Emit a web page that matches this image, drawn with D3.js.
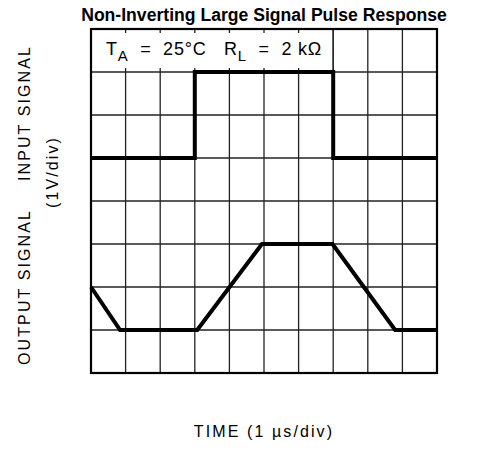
<!DOCTYPE html>
<html>
<head>
<meta charset="utf-8">
<script src="https://cdnjs.cloudflare.com/ajax/libs/d3/7.8.5/d3.min.js"></script>
<style>
  body { margin: 0; background: #fff; }
  .lbl { font-family: "Liberation Sans Narrow", "Liberation Sans", sans-serif; fill: #000; }
</style>
</head>
<body>
<script>
//scope divisions
let timeDivs = d3.range(0, 11),
    voltDivs = d3.range(0, 9);

//input pulse (time div, volt div)
let inputTime = [0, 3, 3, 7, 7, 10],
    inputVolt = [5, 5, 7, 7, 5, 5];

//output response (time div, volt div)
let outputTime = [0, 0.84, 3.07, 4.94, 6.98, 8.79, 10],
    outputVolt = [2, 1, 1, 3, 3, 1, 1];

window.onload = drawChart();

function drawChart() {
    let width = 485,
        height = 449;

    let margin = {top: 29, left: 91, right: 48, bottom: 76};

    let svg = d3.select("body")
        .append("svg")
        .attr("width", width)
        .attr("height", height);

    let x = d3.scaleLinear()
        .domain([0, 10])
        .range([margin.left, width - margin.right]);

    let y = d3.scaleLinear()
        .domain([0, 8])
        .range([height - margin.bottom, margin.top]);

    //the label box covers the first 7 columns of the top row
    let boxRight = 7;

    //vertical grid lines, broken by the label box
    svg.append("g")
        .selectAll("line")
        .data(timeDivs.slice(1, -1))
        .enter()
        .append("line")
        .attr("x1", d => x(d))
        .attr("x2", d => x(d))
        .attr("y1", d => d < boxRight ? y(7) : y(8))
        .attr("y2", y(0))
        .attr("stroke", "#222")
        .attr("stroke-width", 1.3);

    //little ticks inside the label box
    let boxTicks = timeDivs.slice(1, boxRight);
    svg.append("g")
        .selectAll("line")
        .data(boxTicks)
        .enter()
        .append("line")
        .attr("x1", d => x(d))
        .attr("x2", d => x(d))
        .attr("y1", y(8))
        .attr("y2", y(8) + 4)
        .attr("stroke", "#222")
        .attr("stroke-width", 1.3);
    svg.append("g")
        .selectAll("line")
        .data(boxTicks)
        .enter()
        .append("line")
        .attr("x1", d => x(d))
        .attr("x2", d => x(d))
        .attr("y1", y(7))
        .attr("y2", y(7) - 4)
        .attr("stroke", "#222")
        .attr("stroke-width", 1.3);

    //horizontal grid lines
    svg.append("g")
        .selectAll("line")
        .data(voltDivs.slice(1, -1))
        .enter()
        .append("line")
        .attr("x1", x(0))
        .attr("x2", x(10))
        .attr("y1", d => y(d))
        .attr("y2", d => y(d))
        .attr("stroke", "#222")
        .attr("stroke-width", 1.3);

    //box edge on the right of the label
    svg.append("line")
        .attr("x1", x(boxRight))
        .attr("x2", x(boxRight))
        .attr("y1", y(8))
        .attr("y2", y(7))
        .attr("stroke", "#222")
        .attr("stroke-width", 1.3);

    //frame
    svg.append("rect")
        .attr("x", x(0))
        .attr("y", y(8))
        .attr("width", x(10) - x(0))
        .attr("height", y(0) - y(8))
        .attr("fill", "none")
        .attr("stroke", "#000")
        .attr("stroke-width", 2.2);

    let line = d3.line()
        .x(d => x(d[0]))
        .y(d => y(d[1]));

    svg.append("path")
        .datum(d3.zip(inputTime, inputVolt))
        .attr("d", line)
        .attr("fill", "none")
        .attr("stroke", "#000")
        .attr("stroke-width", 4);

    svg.append("path")
        .datum(d3.zip(outputTime, outputVolt))
        .attr("d", line)
        .attr("fill", "none")
        .attr("stroke", "#000")
        .attr("stroke-width", 4);

    //title
    svg.append("text")
        .attr("x", (x(0) + x(10)) / 2)
        .attr("y", 21)
        .attr("text-anchor", "middle")
        .style("font-family", "'Liberation Sans', Arial, sans-serif")
        .style("font-weight", "bold")
        .style("font-size", "17.6px")
        .text("Non-Inverting Large Signal Pulse Response");

    //conditions in the label box
    let cond = svg.append("text")
        .attr("class", "lbl")
        .attr("x", 106)
        .attr("y", 55)
        .style("font-size", "18px")
        .style("letter-spacing", "0.8px")
        .attr("xml:space", "preserve");
    cond.append("tspan").text("T");
    cond.append("tspan").attr("dy", 6).style("font-size", "15px").text("A");
    cond.append("tspan").attr("dy", -6).text("  =  25°C   R");
    cond.append("tspan").attr("dy", 6).style("font-size", "15px").text("L");
    cond.append("tspan").attr("dy", -6).text("  =  2 kΩ");

    //axis labels
    let axisFont = "16px",
        axisSpacing = "2.1px";
    svg.append("text")
        .attr("class", "lbl")
        .attr("transform", "translate(30,113) rotate(-90)")
        .attr("text-anchor", "middle")
        .style("font-size", axisFont)
        .style("letter-spacing", axisSpacing)
        .text("INPUT SIGNAL");
    svg.append("text")
        .attr("class", "lbl")
        .attr("transform", "translate(30,287) rotate(-90)")
        .attr("text-anchor", "middle")
        .style("font-size", axisFont)
        .style("letter-spacing", axisSpacing)
        .text("OUTPUT SIGNAL");
    svg.append("text")
        .attr("class", "lbl")
        .attr("transform", "translate(58,172) rotate(-90)")
        .attr("text-anchor", "middle")
        .style("font-size", axisFont)
        .style("letter-spacing", axisSpacing)
        .text("(1V/div)");

    svg.append("text")
        .attr("class", "lbl")
        .attr("x", (x(0) + x(10)) / 2)
        .attr("y", 437)
        .attr("text-anchor", "middle")
        .style("font-size", axisFont)
        .style("letter-spacing", axisSpacing)
        .text("TIME (1 µs/div)");
}
</script>
</body>
</html>
